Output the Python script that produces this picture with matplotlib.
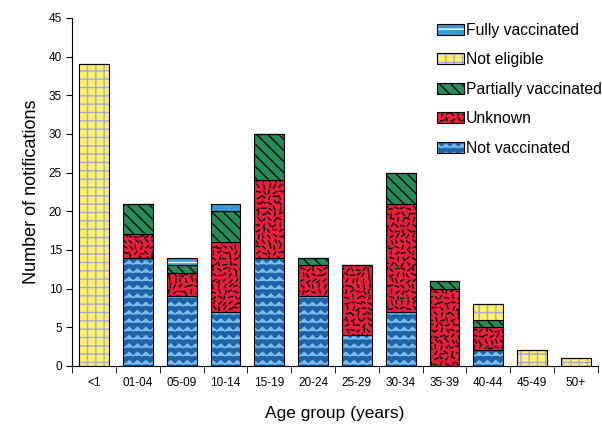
import numpy as np
import matplotlib
matplotlib.use('Agg')
import matplotlib.pyplot as plt
from matplotlib import hatch as mhatch
from matplotlib.path import Path
from matplotlib.patches import Patch
from matplotlib.legend_handler import HandlerTuple

plt.rcParams['font.family'] = ['Liberation Sans', 'DejaVu Sans']
plt.rcParams['hatch.linewidth'] = 1.0


# zigzag hatch for '|'
class ZigZagHatch(mhatch.HatchPatternBase):
    def __init__(self, hatch, density):
        self.num_rows = int(hatch.count('|') * density)
        self.n_seg = self.num_rows
        self.num_vertices = self.num_rows * (2 * self.n_seg + 1)

    def set_vertices_and_codes(self, vertices, codes):
        xs = np.linspace(0, 1, 2 * self.n_seg + 1)
        amp = 0.22 / self.num_rows
        offs = np.where(np.arange(len(xs)) % 2 == 0, -amp, amp)
        n = len(xs)
        for r in range(self.num_rows):
            y0 = (r + 0.5) / self.num_rows
            vertices[r * n:(r + 1) * n, 0] = xs
            vertices[r * n:(r + 1) * n, 1] = y0 + offs
            codes[r * n] = Path.MOVETO
            codes[r * n + 1:(r + 1) * n] = Path.LINETO


# vertical lines only for '+'
class PlusVertical(mhatch.VerticalHatch):
    def __init__(self, hatch, density):
        self.num_lines = int(hatch.count('+') * density)
        self.num_vertices = self.num_lines * 2


# short scattered dashes for '.'
class DashHatch(mhatch.HatchPatternBase):
    def __init__(self, hatch, density):
        self.n = int(hatch.count('.') * density)
        self.num_vertices = self.n * self.n * 2

    def set_vertices_and_codes(self, vertices, codes):
        n = self.n
        i, j = np.meshgrid(np.arange(n), np.arange(n))
        i, j = i.ravel(), j.ravel()
        ang = ((i * 0.618 + j * 0.381 + (i * j) * 0.137) % 1.0) * np.pi
        jx = ((i * 0.29 + j * 0.71) % 1.0 - 0.5) * 0.4
        jy = ((i * 0.53 + j * 0.17) % 1.0 - 0.5) * 0.4
        cx = (i + 0.5 + jx) / n
        cy = (j + 0.5 + jy) / n
        half = 0.33 / n
        vertices[0::2, 0] = cx - half * np.cos(ang)
        vertices[0::2, 1] = cy - half * np.sin(ang)
        vertices[1::2, 0] = cx + half * np.cos(ang)
        vertices[1::2, 1] = cy + half * np.sin(ang)
        codes[0::2] = Path.MOVETO
        codes[1::2] = Path.LINETO


swap = {mhatch.VerticalHatch: PlusVertical, mhatch.SmallFilledCircles: DashHatch}
mhatch._hatch_types = [swap.get(t, t) for t in mhatch._hatch_types] + [ZigZagHatch]

groups = ['<1', '01-04', '05-09', '10-14', '15-19', '20-24',
          '25-29', '30-34', '35-39', '40-44', '45-49', '50+']
not_vaccinated = [0, 14, 9, 7, 14, 9, 4, 7, 0, 2, 0, 0]
unknown        = [0, 3, 3, 9, 10, 4, 9, 14, 10, 3, 0, 0]
partially      = [0, 4, 1, 4, 6, 1, 0, 4, 1, 1, 0, 0]
not_eligible   = [39, 0, 0, 0, 0, 0, 0, 0, 0, 2, 2, 1]
fully          = [0, 0, 1, 1, 0, 0, 0, 0, 0, 0, 0, 0]

# name, values, face colour, hatch, hatch colour
series = [
    ('Not vaccinated', not_vaccinated, '#1d63a6', '||', '#7cbcec'),
    ('Unknown', unknown, '#ea1f3c', '...', '#111111'),
    ('Partially vaccinated', partially, '#2a8a57', '\\\\\\', '#111111'),
    ('Not eligible', not_eligible, '#fff06a', '++', '#a4aad6'),
    ('Fully vaccinated', fully, '#3a9ad4', '--', '#ffffff'),
]

fig, ax = plt.subplots(figsize=(6.02, 4.28), dpi=100)
fig.subplots_adjust(left=0.12, right=0.993, top=0.958, bottom=0.145)

x = np.arange(len(groups))
w = 0.68
bottom = np.zeros(len(groups))
handles = []
for name, vals, fc, hatch, hc in series:
    vals = np.array(vals, dtype=float)
    ax.bar(x, vals, w, bottom=bottom, color=fc, edgecolor=hc, hatch=hatch, linewidth=0)
    ax.bar(x, vals, w, bottom=bottom, fill=False, edgecolor='black', linewidth=0.8)
    bottom += vals
    handles.append((Patch(facecolor=fc, edgecolor=hc, hatch=hatch, linewidth=0),
                    Patch(fill=False, edgecolor='black', linewidth=0.8)))

ax.set_ylim(0, 45)
ax.set_yticks(range(0, 46, 5))
ax.set_xlim(-0.5, len(groups) - 0.5)
ax.set_xticks(x)
ax.set_xticklabels(groups)
ax.set_xticks(np.arange(-0.5, len(groups)), minor=True)
ax.tick_params(axis='x', which='major', length=0, labelsize=8.5, pad=8)
ax.tick_params(axis='x', which='minor', length=5, direction='out')
ax.tick_params(axis='y', labelsize=8.5, length=4, direction='out')
for s in ['top', 'right']:
    ax.spines[s].set_visible(False)

ax.set_ylabel('Number of notifications', fontsize=13, labelpad=6)
ax.set_xlabel('Age group (years)', fontsize=12.5, labelpad=12)

names = [s[0] for s in series]
fig.legend(handles[::-1], names[::-1], loc='upper left',
           bbox_to_anchor=(437 / 602, 1 - 23 / 428), frameon=False,
           borderpad=0, borderaxespad=0,
           fontsize=11.3, handlelength=1.7, handleheight=0.7,
           handletextpad=0.15, labelspacing=0.92,
           handler_map={tuple: HandlerTuple(ndivide=1)})

fig.savefig('out.png', dpi=100)
